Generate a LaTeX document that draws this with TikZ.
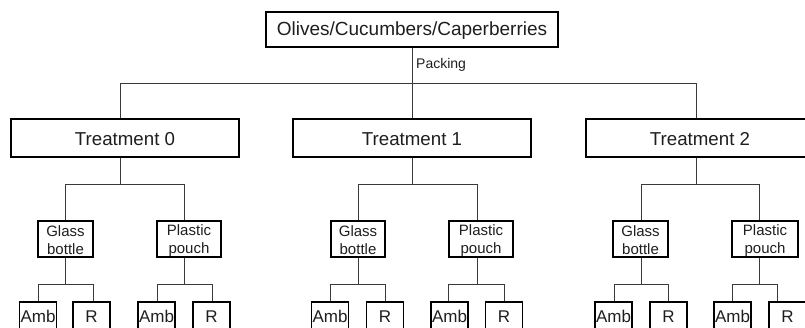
\documentclass[tikz,border=0pt]{standalone}
\usepackage{fontspec}
\setmainfont{Liberation Sans}
\definecolor{ln}{HTML}{3A3A3A}
\definecolor{tx}{HTML}{1E1E1E}
\begin{document}
\begin{tikzpicture}[x=1pt,y=-1pt,
  box/.style={draw=black,line width=1.2pt,inner xsep=0pt,inner ysep=0pt,text=tx},
  conn/.style={draw=ln,line width=1pt},
  treat/.style={box,text height=26.4pt,text depth=11.6pt,font=\fontsize{18.7}{22}\selectfont},
  cont/.style={box,align=center,font=\fontsize{15}{18}\selectfont},
  leaf/.style={box,minimum width=37pt,text height=20pt,text depth=10pt,font=\fontsize{17}{20}\selectfont}]
\useasboundingbox (0,0) rectangle (805,327);
\clip (0,0) rectangle (805,327);
% top
\node[box,minimum width=292pt,text height=23.6pt,text depth=11.4pt,font=\fontsize{19}{22}\selectfont] (top) at (412,29.5) {Olives/Cucumbers/Caperberries};
\node[anchor=base west,inner sep=0pt,text=tx,font=\fontsize{14}{16}\selectfont] (pk) at (416,68) {Packing};
% treatments
\node[treat,minimum width=228pt] (T0) at (125,138) {Treatment 0};
\node[treat,minimum width=238pt] (T1) at (412,138) {Treatment 1};
\node[treat,minimum width=228pt] (T2) at (700,138) {Treatment 2};
% containers
\node[cont,minimum width=55pt] (G0) at (65.5,239) {\rule{0pt}{15pt}Glass\\bottle\rule[-3pt]{0pt}{3pt}};
\node[cont,minimum width=64pt] (P0) at (189,239) {\rule{0pt}{15pt}Plastic\\pouch\rule[-3pt]{0pt}{3pt}};
\node[cont,minimum width=54pt] (G1) at (358,239) {\rule{0pt}{15pt}Glass\\bottle\rule[-3pt]{0pt}{3pt}};
\node[cont,minimum width=64pt] (P1) at (481,239) {\rule{0pt}{15pt}Plastic\\pouch\rule[-3pt]{0pt}{3pt}};
\node[cont,minimum width=55pt] (G2) at (640.5,239) {\rule{0pt}{15pt}Glass\\bottle\rule[-3pt]{0pt}{3pt}};
\node[cont,minimum width=66pt] (P2) at (765,239) {\rule{0pt}{15pt}Plastic\\pouch\rule[-3pt]{0pt}{3pt}};
% level 1 connectors
\coordinate (hL) at (120,83);
\coordinate (hR) at (696,83);
\draw[conn] (top.south) -- (top.south |- hL);
\draw[conn] (hL) -- (hR);
\draw[conn] (hL) -- (hL |- T0.north);
\draw[conn] (top.south |- hL) -- (T1.north);
\draw[conn] (hR) -- (hR |- T2.north);
% level 2 connectors
\foreach \n/\tv/\gx/\px in {0/120/65/184, 1/412/358/477, 2/696/641/759}{
  \coordinate (tv\n) at (\tv,184);
  \coordinate (gx\n) at (\gx,184);
  \coordinate (px\n) at (\px,184);
  \draw[conn] (T\n.south -| tv\n) -- (tv\n);
  \draw[conn] (gx\n) -- (px\n);
  \draw[conn] (gx\n) -- (gx\n |- G\n.north);
  \draw[conn] (px\n) -- (px\n |- P\n.north);
}
% leaves
\foreach \c/\lx/\la/\lr/\ac/\rc in {G0/65/38/93/38/91.5, P0/184/157/212/156.5/211.5,
  G1/358/330/385/330/385, P1/477/448/504/449.5/504,
  G2/641/614/668/613.5/668.5, P2/759/732/777/732.5/787.5}{
  \node[leaf] (\c-a) at (\ac,317) {Amb};
  \node[leaf] (\c-r) at (\rc,317) {R};
  \coordinate (\c-m) at (\lx,284);
  \coordinate (\c-L) at (\la,284);
  \coordinate (\c-R) at (\lr,284);
  \draw[conn] (\c.south -| \c-m) -- (\c-m);
  \draw[conn] (\c-L) -- (\c-R);
  \draw[conn] (\c-L) -- (\c-L |- \c-a.north);
  \draw[conn] (\c-R) -- (\c-R |- \c-r.north);
}
\end{tikzpicture}
\end{document}
